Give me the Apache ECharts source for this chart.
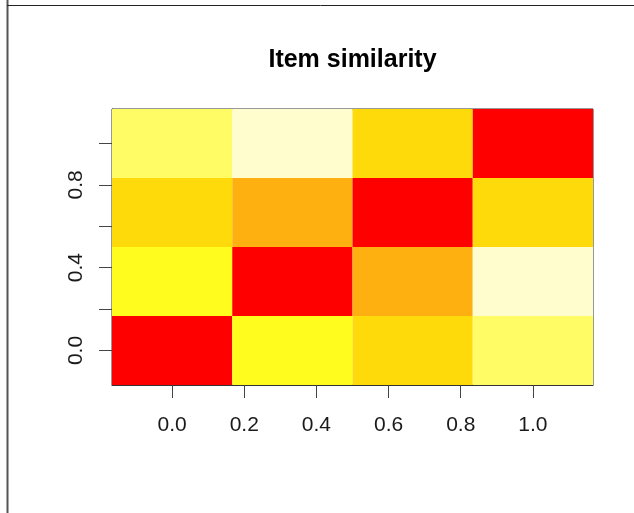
<!DOCTYPE html>
<html>
<head>
<meta charset="utf-8">
<title>Item similarity</title>
<script src="https://cdn.jsdelivr.net/npm/echarts@6/dist/echarts.min.js"></script>
<style>
  html, body { margin: 0; padding: 0; background: #ffffff; }
  #chart { width: 634px; height: 513px; }
</style>
</head>
<body>
<div id="chart"></div>
<script>
// Cell centres along each axis (items spread evenly over 0..1)
const cellCenters = [0, 1 / 3, 2 / 3, 1];

// Pairwise similarity; row r is drawn at y = cellCenters[r], column c at x = cellCenters[c]
const simRow0 = [1.00, 0.24, 0.40, 0.14];
const simRow1 = [0.24, 1.00, 0.48, 0.05];
const simRow2 = [0.40, 0.48, 1.00, 0.40];
const simRow3 = [0.14, 0.05, 0.40, 1.00];
const simRows = [simRow0, simRow1, simRow2, simRow3];

// Axis tick marks and labelled ticks
const xTicks = [0, 0.2, 0.4, 0.6, 0.8, 1.0];
const xTickLabels = [0, 0.2, 0.4, 0.6, 0.8, 1.0];
const yTicks = [0, 0.2, 0.4, 0.6, 0.8, 1.0];
const yTickLabels = [0, 0.4, 0.8];

// Heat palette, low similarity (pale) to high similarity (red), 12 equal bins
const heatPalette = [
  '#FFFCCE', '#FFFC66', '#FFFC1E', '#FFFB00', '#FFDA0A', '#FDB00F',
  '#FF9F00', '#FF8000', '#FF6000', '#FF4000', '#FF2000', '#FF0000'
];

const cells = [];
simRows.forEach((row, r) => {
  row.forEach((v, c) => cells.push([cellCenters[c], cellCenters[r], v]));
});

const allVals = simRows.flat();
const vMin = Math.min(...allVals);
const vMax = Math.max(...allVals);
const step = (vMax - vMin) / heatPalette.length;
const pieces = heatPalette.map((color, i) => ({
  gte: vMin + i * step - (i === 0 ? 1e-9 : 0),
  lt: i === heatPalette.length - 1 ? vMax + 1e-9 : vMin + (i + 1) * step,
  color: color
}));

const halfW = (cellCenters[1] - cellCenters[0]) / 2;
const lo = cellCenters[0] - halfW;
const hi = cellCenters[cellCenters.length - 1] + halfW;

const labelFont = 'Liberation Sans, Arial, Helvetica, sans-serif';
const inkAxis = '#333';

const chart = echarts.init(document.getElementById('chart'), null, { renderer: 'canvas' });
chart.setOption({
  backgroundColor: '#ffffff',
  animation: false,
  grid: {
    left: 112, right: 41, top: 109, bottom: 128,
    show: true, borderColor: inkAxis, borderWidth: 1, backgroundColor: 'transparent'
  },
  xAxis: {
    type: 'value', min: lo, max: hi,
    axisLine: { show: true, onZero: false, lineStyle: { color: inkAxis, width: 1 } },
    splitLine: { show: false },
    axisTick: { show: true, length: 13, lineStyle: { color: '#444', width: 1 }, customValues: xTicks },
    axisLabel: {
      show: true, margin: 30, fontSize: 21, color: '#1a1a1a', fontFamily: labelFont,
      customValues: xTickLabels, formatter: v => Number(v).toFixed(1)
    }
  },
  yAxis: {
    type: 'value', min: lo, max: hi,
    axisLine: { show: true, onZero: false, lineStyle: { color: inkAxis, width: 1 } },
    splitLine: { show: false },
    axisTick: { show: true, length: 13, lineStyle: { color: '#444', width: 1 }, customValues: yTicks },
    axisLabel: {
      show: true, margin: 25, fontSize: 21, color: '#1a1a1a', fontFamily: labelFont, rotate: 90,
      customValues: yTickLabels, formatter: v => Number(v).toFixed(1)
    }
  },
  visualMap: {
    type: 'piecewise', show: false, dimension: 2, seriesIndex: 0, pieces: pieces
  },
  series: [{
    type: 'custom',
    clip: true,
    data: cells,
    encode: { x: 0, y: 1 },
    renderItem: function (params, api) {
      const x = api.value(0), y = api.value(1);
      const p0 = api.coord([x - halfW, y + halfW]);
      const p1 = api.coord([x + halfW, y - halfW]);
      return {
        type: 'rect',
        shape: { x: p0[0], y: p0[1], width: p1[0] - p0[0], height: p1[1] - p0[1] },
        style: { fill: api.visual('color') }
      };
    },
    z: 1
  }],
  graphic: [
    {
      type: 'text', x: 352.5, y: 60.5, z: 10,
      style: {
        text: 'Item similarity', fill: '#000',
        font: 'bold 25px ' + labelFont, textAlign: 'center', textVerticalAlign: 'middle'
      }
    },
    { type: 'line', shape: { x1: 7.5, y1: 0, x2: 7.5, y2: 513 }, style: { stroke: '#555', lineWidth: 2 } },
    { type: 'line', shape: { x1: 7, y1: 5.5, x2: 634, y2: 5.5 }, style: { stroke: '#222', lineWidth: 1 } }
  ]
});
</script>
</body>
</html>
